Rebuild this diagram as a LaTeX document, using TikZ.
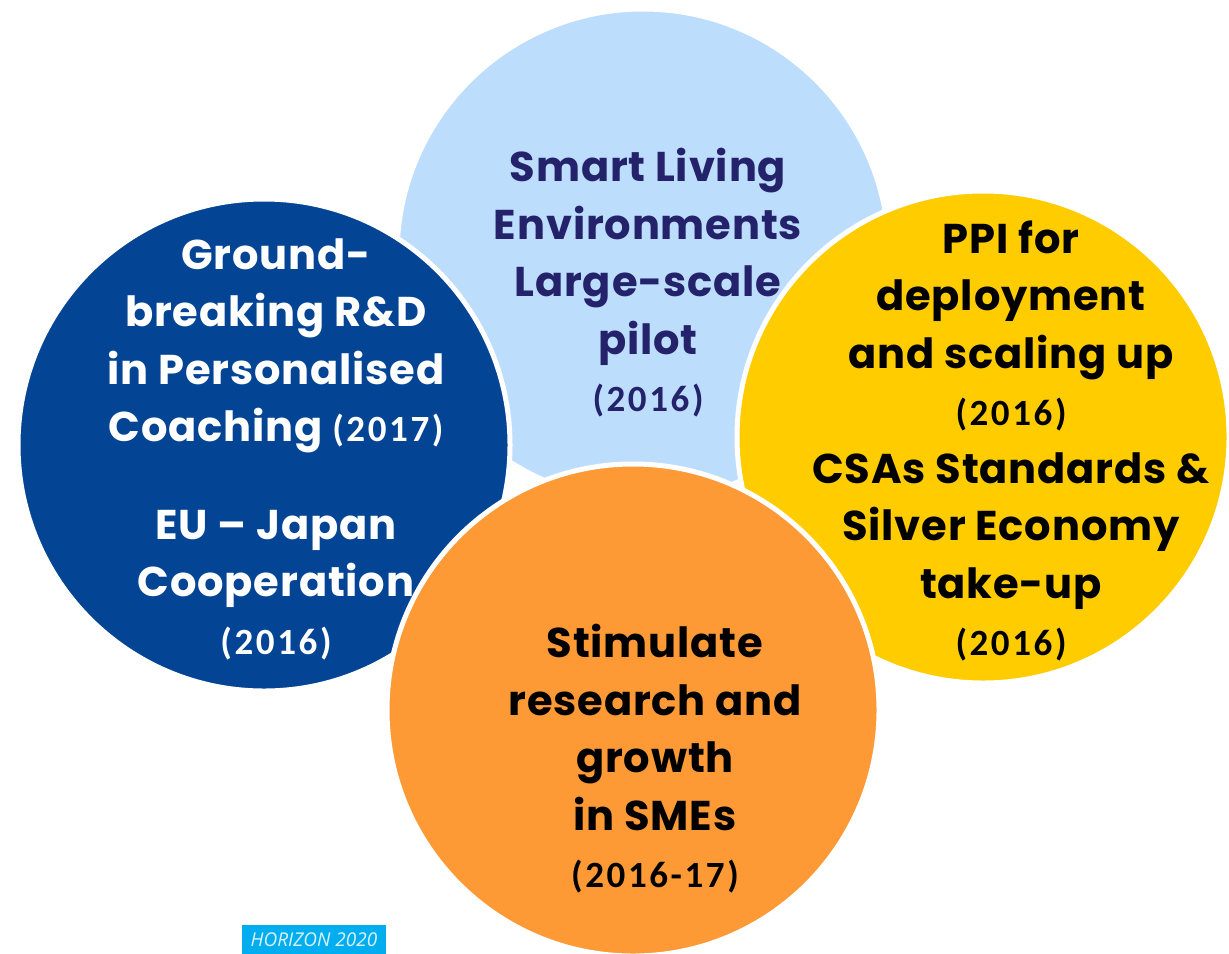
\documentclass[tikz,border=0pt]{standalone}
\usepackage{fontspec}
\setmainfont{Poppins}
\newfontfamily\bubblefont{Poppins}[LetterSpace=2]
\newfontfamily\yearfont{Carlito}[LetterSpace=7]
\newfontfamily\logofont{Open Sans}
\usepackage{xcolor}
\usepackage{tikz}
\usetikzlibrary{positioning}

\definecolor{skyblue}{RGB}{189,221,253}
\definecolor{euroblue}{RGB}{3,69,148}
\definecolor{sunyellow}{RGB}{255,204,0}
\definecolor{tangerine}{RGB}{253,154,54}
\definecolor{navytext}{RGB}{35,34,106}
\definecolor{horizonblue}{RGB}{0,174,239}
\definecolor{horizontext}{RGB}{222,242,252}

\newcommand{\bigtxt}{\bubblefont\fontsize{20.8}{28.75}\selectfont\bfseries}
\newcommand{\yr}[1]{{\yearfont\bfseries\fontsize{18.5}{28.75}\selectfont #1}}

\tikzset{
  bubble/.style={circle, draw=white, line width=2.5pt, fill=#1, minimum size=246pt, inner sep=0pt},
  bubbletext/.style={align=center, font=\bigtxt, text=#1, inner sep=0pt},
}

\begin{document}
\begin{tikzpicture}[x=0.5pt, y=-0.5pt]
	\useasboundingbox (0,0) rectangle (1229,953);
	% circles, back to front
	\node[bubble=skyblue] (smart) at (643,255) {};
	\node[bubble=euroblue] (coaching) at (264,445) {};
	\node[bubble=sunyellow] (ppi) at (983,437) {};
	\node[bubble=tangerine] (sme) at (633,710) {};
	
	% texts
	\node[bubbletext=navytext] (smart text) at (648,283)
		{Smart Living\\Environments\\Large-scale\\pilot\\\yr{(2016)}};
	\node[bubbletext=white] (coaching text) at (276,449)
		{Ground-\\breaking R\&D\\in Personalised\\Coaching \yr{(2017)}\\[20pt]EU – Japan\\Cooperation\\\yr{(2016)}};
	\node[bubbletext=black] (ppi text) at (1011,441)
		{PPI for\\deployment\\and scaling up\\\yr{(2016)}\\CSAs Standards \&\\Silver Economy\\take-up\\\yr{(2016)}};
	\node[bubbletext=black] (sme text) at (655,759)
		{Stimulate\\research and\\growth\\in SMEs\\\yr{(2016-17)}};
	
	\node[fill=horizonblue, text=horizontext, minimum width=72pt, minimum height=15pt, inner sep=0pt,
		font=\logofont\itshape\fontsize{9.5}{11}\selectfont] (logo) at (314,940) {HORIZON 2020};
\end{tikzpicture}
\end{document}
